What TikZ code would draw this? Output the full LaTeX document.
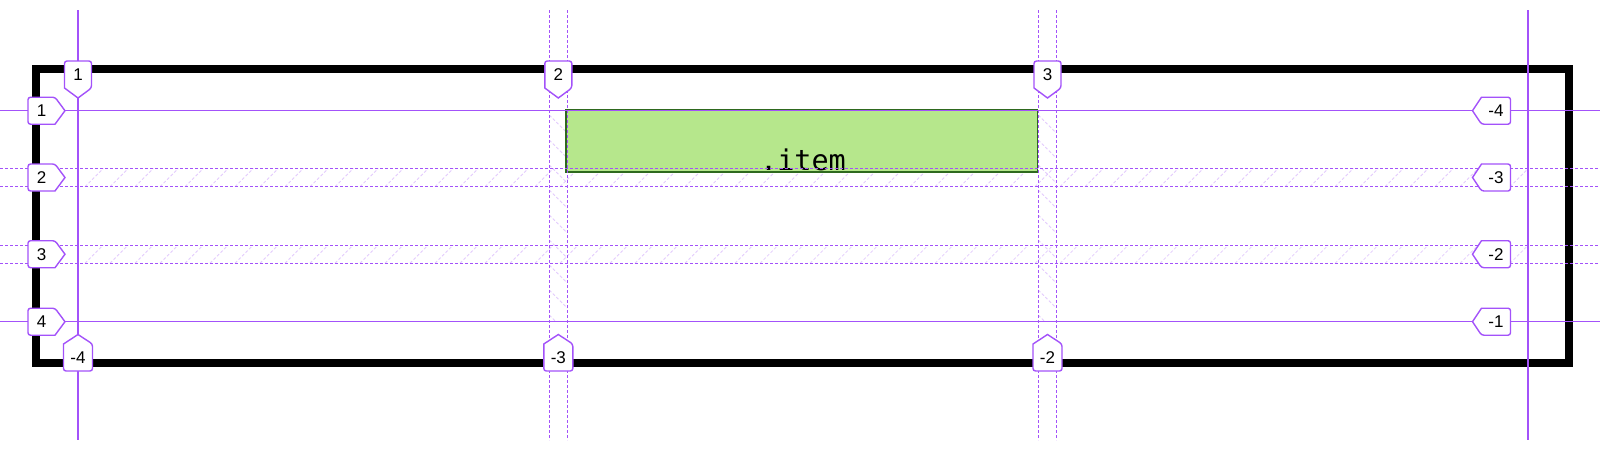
\documentclass[tikz,border=0pt]{standalone}
\usepackage{fontspec}
\setmainfont{Liberation Sans}
\newfontfamily\itemmono{DejaVu Sans Mono}
\definecolor{gridpurple}{RGB}{163,82,250}
\definecolor{itemfill}{RGB}{182,231,140}
\definecolor{itemborder}{RGB}{46,105,30}
\tikzset{
  solidline/.style={draw=gridpurple, line width=1.5pt},
  gapline/.style={draw=gridpurple, line width=1pt, dash pattern=on 3pt off 2pt},
  hatchline/.style={draw=gridpurple, line width=0.8pt, opacity=0.3, dash pattern=on 3pt off 2pt},
  tagshape/.style={draw=gridpurple, fill=white, line width=1.4pt, rounded corners=2.5pt},
  tagtext/.style={font=\fontsize{17}{19}\selectfont, text=black, inner sep=0pt},
  frame/.style={draw=black, line width=8pt, outer sep=0pt},
  itembox/.style={draw=itemborder, fill=itemfill, line width=1.6pt, outer sep=0pt},
}
% label macros: #1 = name, #2 = position, #3 = text
\newcommand\tagTop[3]{%
  \path[tagshape] (#2-13.5,88) -- (#2-13.5,61) -- (#2+13.5,61) -- (#2+13.5,88) [sharp corners] -- (#2,98) -- cycle;
  \node[tagtext] (#1) at (#2,75) {#3};}
\newcommand\tagBot[3]{%
  \path[tagshape] (#2-14.5,344) -- (#2-14.5,371) -- (#2+14.5,371) -- (#2+14.5,344) [sharp corners] -- (#2,334.5) -- cycle;
  \node[tagtext] (#1) at (#2,358) {#3};}
\newcommand\tagLeft[3]{%
  \path[tagshape] (55,#2+13.5) -- (28,#2+13.5) -- (28,#2-13.5) -- (55,#2-13.5) [sharp corners] -- (65,#2) -- cycle;
  \node[tagtext] (#1) at (41.5,#2) {#3};}
\newcommand\tagRight[3]{%
  \path[tagshape] (1481.5,#2-13.5) -- (1510.5,#2-13.5) -- (1510.5,#2+13.5) -- (1481.5,#2+13.5) [sharp corners] -- (1472.5,#2) -- cycle;
  \node[tagtext] (#1) at (1496,#2) {#3};}
\begin{document}
\begin{tikzpicture}[x=1pt,y=-1pt]
\useasboundingbox (0,0) rectangle (1600,450);
\fill[white] (0,0) rectangle (1600,450);
% container frame
\node[frame, minimum width=1533pt, minimum height=294.5pt, inner sep=0pt, anchor=north west] (container) at (36,68.5) {};
% hatching in row gaps
\begin{scope}
  \clip (78,168.3) rectangle (1528,186.7) (78,245) rectangle (1528,263.3);
  \foreach \i in {0,...,60} {
    \draw[hatchline] (60+25*\i,186.7) -- ++(18.4,-18.4);
    \draw[hatchline] (60+25*\i,263.3) -- ++(18.3,-18.3);
  }
\end{scope}
% hatching in column gaps
\begin{scope}
  \clip (549.3,110.7) rectangle (567.3,321.7) (1038.3,110.7) rectangle (1056.7,321.7);
  \foreach \i in {0,...,10} {
    \draw[hatchline] (549.3,90+25*\i) -- ++(18,18);
    \draw[hatchline] (1038.3,90+25*\i) -- ++(18.4,18.4);
  }
\end{scope}
% grid item
\node[itembox, minimum width=471.5pt, minimum height=62pt, inner sep=0pt, anchor=north west] (item) at (566,110) {};
\node[font=\itemmono\fontsize{28.5}{30}\selectfont, anchor=base, inner sep=0pt] (itemlabel) at (803,170) {.item};
% grid lines
\coordinate (c1t) at (78,10);     \coordinate (c1b) at (78,440);
\coordinate (c2at) at (549.3,10); \coordinate (c2ab) at (549.3,440);
\coordinate (c2bt) at (567.3,10); \coordinate (c2bb) at (567.3,440);
\coordinate (c3at) at (1038.3,10);\coordinate (c3ab) at (1038.3,440);
\coordinate (c3bt) at (1056.7,10);\coordinate (c3bb) at (1056.7,440);
\coordinate (c4t) at (1528,10);   \coordinate (c4b) at (1528,440);
\coordinate (r1l) at (0,110.7);   \coordinate (r1r) at (1600,110.7);
\coordinate (r2al) at (0,168.3);  \coordinate (r2ar) at (1600,168.3);
\coordinate (r2bl) at (0,186.7);  \coordinate (r2br) at (1600,186.7);
\coordinate (r3al) at (0,245);    \coordinate (r3ar) at (1600,245);
\coordinate (r3bl) at (0,263.3);  \coordinate (r3br) at (1600,263.3);
\coordinate (r4l) at (0,321.7);   \coordinate (r4r) at (1600,321.7);
\draw[solidline] (c1t) -- (c1b);
\draw[solidline] (c4t) -- (c4b);
\draw[gapline] (c2at) -- (c2ab);
\draw[gapline] (c2bt) -- (c2bb);
\draw[gapline] (c3at) -- (c3ab);
\draw[gapline] (c3bt) -- (c3bb);
\draw[solidline] (r1l) -- (r1r);
\draw[solidline] (r4l) -- (r4r);
\draw[gapline] (r2al) -- (r2ar);
\draw[gapline] (r2bl) -- (r2br);
\draw[gapline] (r3al) -- (r3ar);
\draw[gapline] (r3bl) -- (r3br);
% line number tags
\tagTop{t1}{78}{1}
\tagTop{t2}{558.3}{2}
\tagTop{t3}{1047.5}{3}
\tagBot{b1}{78}{-4}
\tagBot{b2}{558.3}{-3}
\tagBot{b3}{1047.5}{-2}
\tagLeft{l1}{110.7}{1}
\tagLeft{l2}{177.5}{2}
\tagLeft{l3}{254.2}{3}
\tagLeft{l4}{321.7}{4}
\tagRight{rr1}{110.7}{-4}
\tagRight{rr2}{177.5}{-3}
\tagRight{rr3}{254.2}{-2}
\tagRight{rr4}{321.7}{-1}
\end{tikzpicture}
\end{document}
